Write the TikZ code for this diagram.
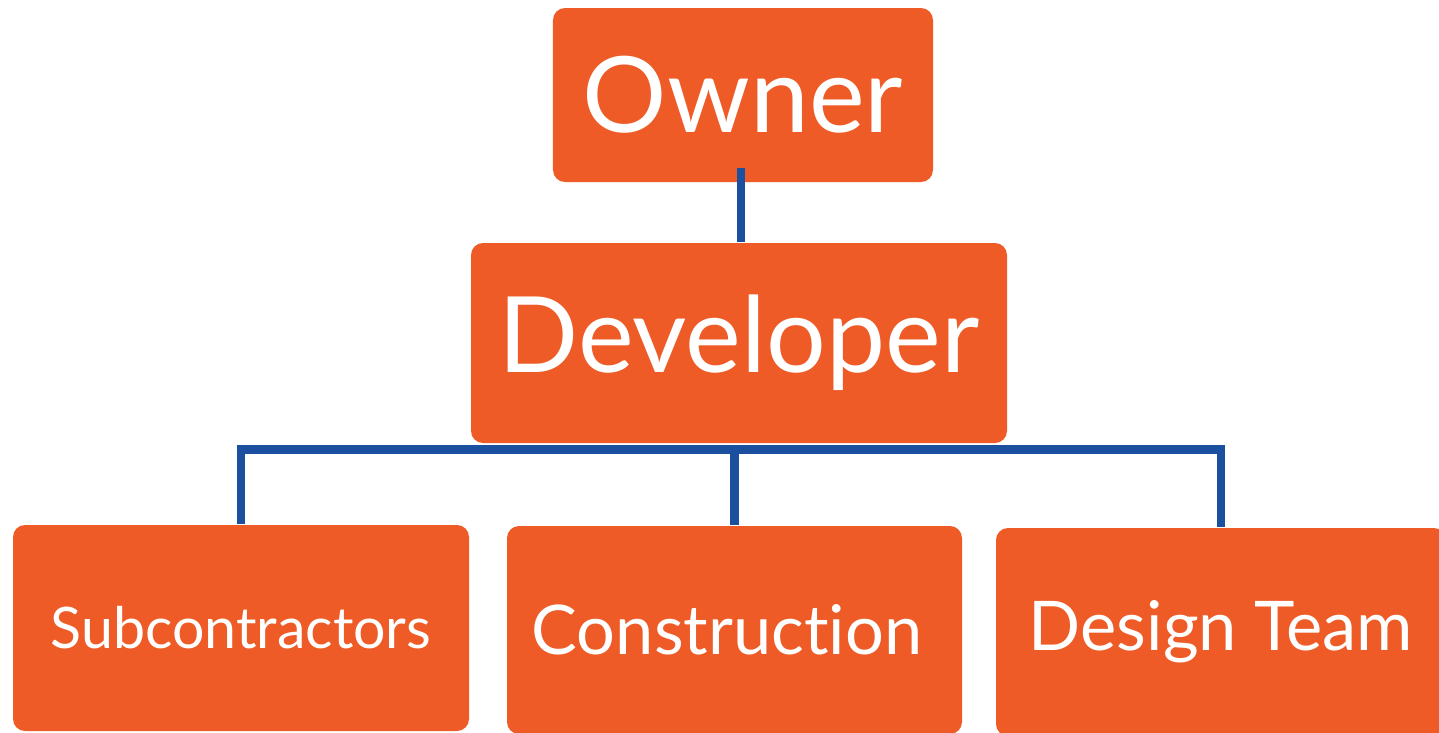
\documentclass[tikz,border=0pt]{standalone}
\usepackage{fontspec}
\setmainfont[Ligatures=NoCommon]{Lato}
\usepackage{xcolor}
\usetikzlibrary{calc}
\definecolor{boxorange}{HTML}{EE5B26}
\definecolor{linkblue}{HTML}{1B4F9F}
\tikzset{
  orgbox/.style={fill=boxorange, rounded corners=0.12cm, text=white,
    inner sep=0pt, align=center},
  link/.style={draw=linkblue, line width=2.4pt}
}

\begin{document}
\begin{tikzpicture}
    \useasboundingbox (0,0) rectangle (14.39,-7.33);

    \node [orgbox, minimum width=3.80cm, minimum height=1.74cm,
      font=\fontsize{30}{34}\selectfont] (owner) at (7.43,-0.95) {Owner};
    \node [orgbox, minimum width=5.36cm, minimum height=2.00cm,
      font=\fontsize{30}{34}\selectfont] (developer) at (7.39,-3.43) {Developer};

    \node [orgbox, minimum width=4.56cm, minimum height=2.06cm,
      font=\fontsize{16.3}{19}\selectfont] (subs) at (2.41,-6.28) {Subcontractors};
    \node [orgbox, minimum width=4.55cm, minimum height=2.08cm,
      font=\fontsize{19.5}{23}\selectfont] (constr) at (7.345,-6.30) {\hspace*{-0.15cm}Construction};
    \node [orgbox, minimum width=4.50cm, minimum height=2.08cm,
      font=\fontsize{19.5}{23}\selectfont] (design) at (12.21,-6.32) {Design Team};

    \coordinate (bus) at ($(developer.south)+(0,-0.06)$);
    \coordinate (ownerfoot) at ($(developer.north |- owner.south)+(0.02,0.15)$);

    \draw [link] (ownerfoot) -- (ownerfoot |- developer.north);
    \draw [link] (subs.north) |- (bus) -| (design.north);
    \draw [link] (constr.north) -- (constr.north |- bus);
  \end{tikzpicture}
\end{document}
